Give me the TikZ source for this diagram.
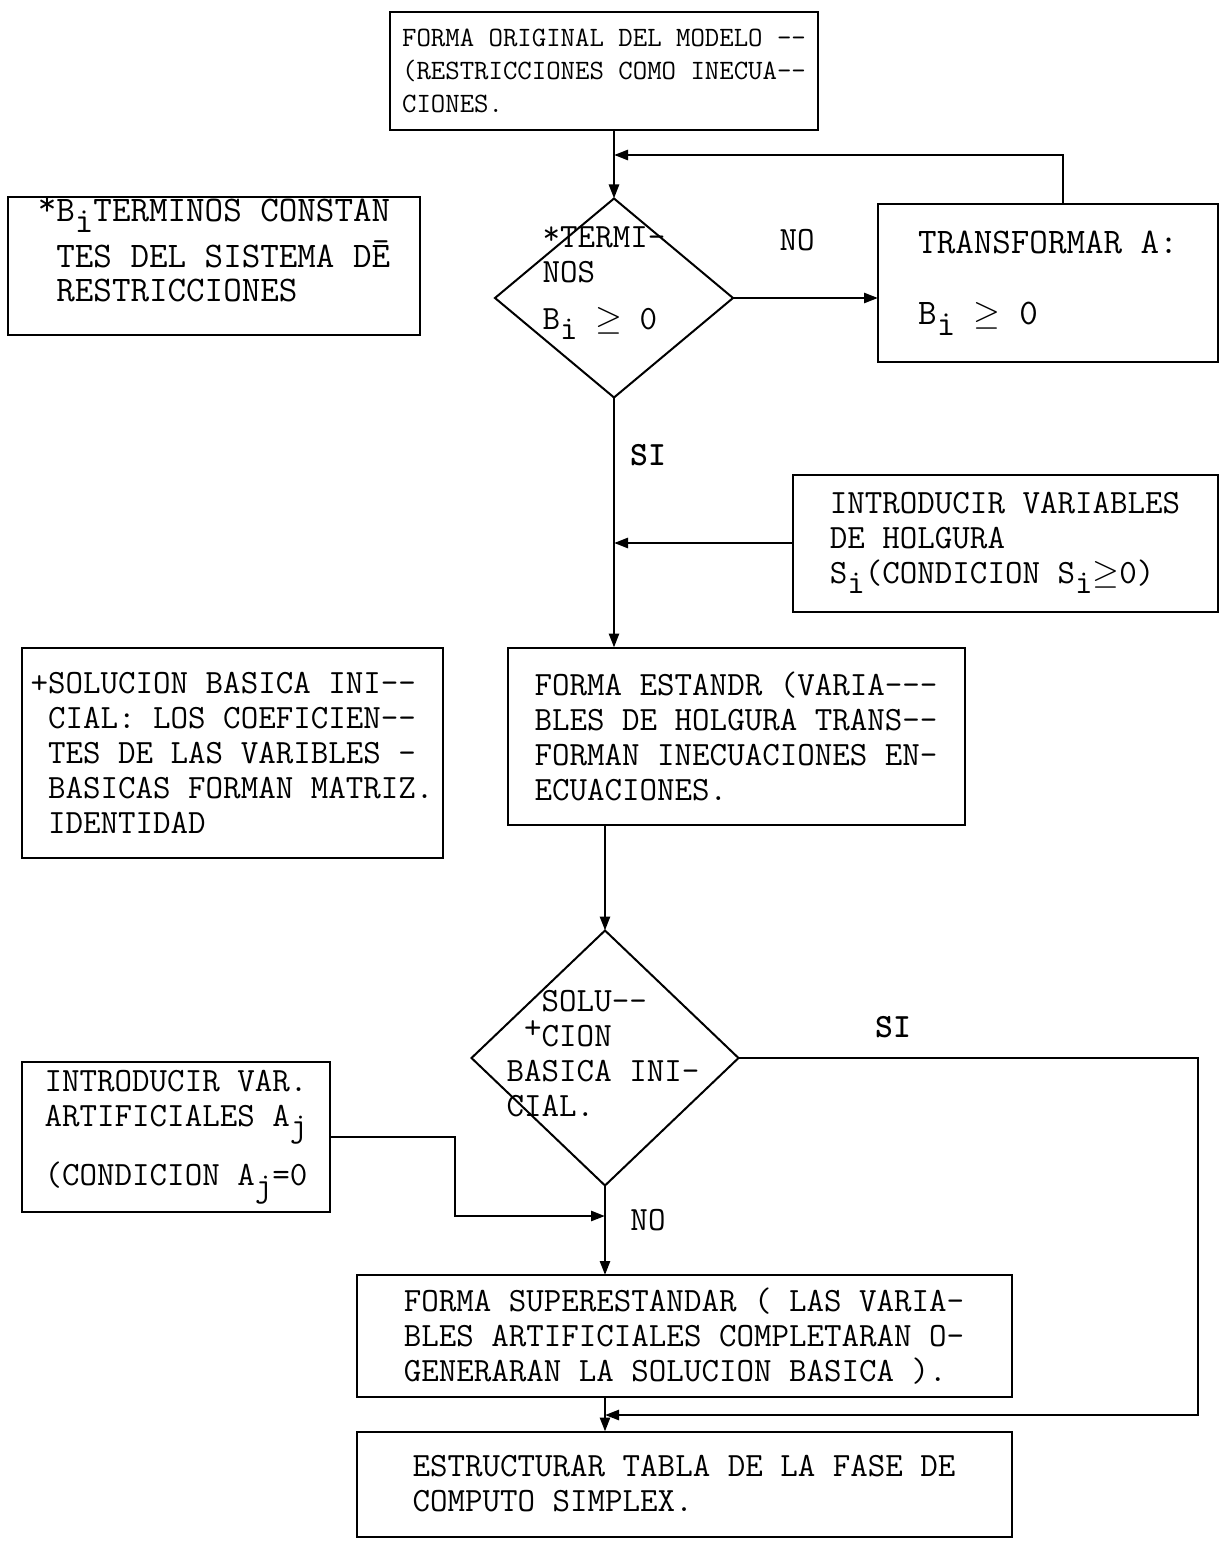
\documentclass[tikz,border=0pt]{standalone}
\usepackage{fontspec}
\usepackage{amsmath,amssymb}
\usepackage{tikz}
\usetikzlibrary{shapes.geometric, positioning, arrows.meta, calc}

\newcommand{\boxfont}{\ttfamily\fontsize{17}{17.5}\selectfont}
\newcommand{\lowidx}[1]{\raisebox{-0.7ex}{#1}}

\begin{document}
\begin{tikzpicture}[
x=0.5pt, y=-0.5pt,
    process/.style={rectangle, draw, line width=1pt, align=left, font=\boxfont, inner sep=0pt, outer sep=0pt},
    decision/.style={diamond, draw, line width=1pt, inner sep=0pt, outer sep=0pt},
    dtext/.style={align=left, font=\boxfont, inner sep=0pt},
    tag/.style={font=\boxfont, inner sep=0pt},
    flow/.style={draw, line width=1.3pt, -{Triangle[length=7pt,width=5pt]}},
    line/.style={draw, line width=1.3pt}
]
    \useasboundingbox (0,0) rectangle (1220,1546);

    % --- Start ---
    \node[process, minimum width=214pt, minimum height=59pt,
          font=\ttfamily\fontsize{14}{16.5}\selectfont] (orig) at (604,71)
        {FORMA ORIGINAL DEL MODELO --\\(RESTRICCIONES COMO INECUA--\\CIONES.};

    % Note on B_i
    \node[process, minimum width=206pt, minimum height=69pt,
          font=\ttfamily\fontsize{18}{17}\selectfont] (notab) at (214,266)
        {\raisebox{.4ex}{*}B\lowidx{i}TERMINOS CONSTAN\\[3pt]~TES DEL SISTEMA DĒ\\~RESTRICCIONES\\ \mbox{}};

    % --- First decision ---
    \node[decision, minimum width=119pt, minimum height=99.5pt] (terminos) at (614,298) {};
    \node[dtext] (terminostxt) at (604,283)
        {\raisebox{.2ex}{*}TERMI-\\NOS\\[6pt]B\lowidx{i} $\geq$ 0};

    \node[process, minimum width=170pt, minimum height=78.5pt,
          font=\ttfamily\fontsize{18}{17.5}\selectfont] (transform) at (1048,283)
        {TRANSFORMAR A:\\[18pt]B\lowidx{i} $\geq$ 0};

    \node[tag] (nouno) at (797,240) {NO};
    \node[tag] (siuno) at (648,455) {\bfseries SI};

    \coordinate (backin) at (614,155);
    \draw[flow] (orig.south -| terminos.north) -- (terminos.north);
    \draw[flow] ([xshift=7.5pt]transform.north) |- (backin);
    \draw[flow] (terminos.east) -- (transform.west |- terminos.east);

    % --- Slack variables ---
    \node[process, minimum width=212.5pt, minimum height=68.5pt] (holgura) at (1005,543)
        {INTRODUCIR VARIABLES\\DE HOLGURA\\S\lowidx{i}(CONDICION S\lowidx{i}$\geq$0)};

    \node[process, minimum width=210.5pt, minimum height=105pt] (notasol) at (232,753)
        {+SOLUCION BASICA INI--\\~CIAL: LOS COEFICIEN--\\~TES DE LAS VARIBLES -\\~BASICAS FORMAN MATRIZ.\\~IDENTIDAD};

    \node[process, minimum width=228.5pt, minimum height=88.5pt] (estandar) at (736,736)
        {FORMA ESTANDR (VARIA---\\BLES DE HOLGURA TRANS--\\FORMAN INECUACIONES EN-\\ECUACIONES.};

    \draw[flow] (terminos.south) -- (terminos.south |- estandar.north);
    \draw[flow] (holgura.west) -- (holgura.west -| terminos.south);

    % --- Second decision ---
    \node[decision, minimum width=133.5pt, minimum height=127.5pt] (solucion) at (605,1058) {};
    \node[dtext] (soluciontxt) at (603,1054)
        {~~SOLU--\\~\raisebox{.6ex}{+}CION\\BASICA INI-\\CIAL.};

    \draw[flow] (estandar.south -| solucion.north) -- (solucion.north);

    \node[tag] (sidos) at (893,1027) {\bfseries SI};
    \node[tag] (nodos) at (648,1220) {NO};

    \node[process, minimum width=154pt, minimum height=75pt] (artificial) at (176,1137)
        {INTRODUCIR VAR.\\ARTIFICIALES A\lowidx{j}\\[8pt](CONDICION A\lowidx{j}=0};

    % --- Final steps ---
    \node[process, minimum width=327.5pt, minimum height=61pt] (superest) at (684,1336)
        {FORMA SUPERESTANDAR ( LAS VARIA-\\BLES ARTIFICIALES COMPLETARAN O-\\GENERARAN LA SOLUCION BASICA ).};
    \node[process, minimum width=327.5pt, minimum height=52.5pt] (estructurar) at (684,1484)
        {ESTRUCTURAR TABLA DE LA FASE DE\\COMPUTO SIMPLEX.};

    \coordinate (artbend) at (455,1216);
    \coordinate (noin) at (605,1216);
    \coordinate (siright) at (1198,1415);
    \coordinate (siin) at (605,1415);

    \draw[flow] (artificial.east) -| (artbend) -- (noin);
    \draw[flow] (solucion.south) -- (solucion.south |- superest.north);
    \draw[flow] (solucion.east) -| (siright) -- (siin);
    \draw[flow] (superest.south -| solucion.south) -- (estructurar.north -| solucion.south);

\end{tikzpicture}
\end{document}
